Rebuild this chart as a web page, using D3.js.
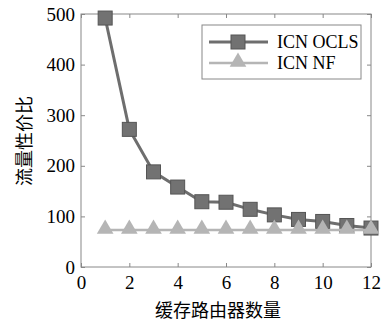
<!DOCTYPE html>
<html>
<head>
<meta charset="utf-8">
<script src="https://cdn.jsdelivr.net/npm/d3@7"></script>
<style>
  body { margin: 0; background: #fff; }
  text { font-family: "Liberation Serif", "DejaVu Serif", serif; fill: #000; }
  .cjk { font-family: "Noto Sans CJK SC", sans-serif; }
</style>
</head>
<body>
<div id="container"></div>
<script>
// Chart values
const routers = [1, 2, 3, 4, 5, 6, 7, 8, 9, 10, 11, 12];
const oclsValues = [492, 272, 188, 158, 129, 128, 114, 103, 94, 90, 82, 77];
const nfValues = [73, 73, 73, 73, 73, 73, 73, 73, 73, 73, 73, 73];
const xTicks = [0, 2, 4, 6, 8, 10, 12];
const yTicks = [0, 100, 200, 300, 400, 500];
const seriesNames = ["ICN OCLS", "ICN NF"];

let width = 390;
let height = 321;
let margin = { left: 81, right: 19, top: 14, bottom: 54 };

let svg = d3.select('#container')
  .append('svg')
  .attr('width', width)
  .attr('height', height);

let xScale = d3.scaleLinear()
  .domain([0, 12])
  .range([margin.left, width - margin.right]);

let yScale = d3.scaleLinear()
  .domain([0, 500])
  .range([height - margin.bottom, margin.top]);

// Box with inward ticks on every side
let plotW = xScale(12) - xScale(0);
let plotH = yScale(0) - yScale(500);

svg.append('rect')
  .attr('x', xScale(0))
  .attr('y', yScale(500))
  .attr('width', plotW)
  .attr('height', plotH)
  .attr('fill', 'none')
  .attr('stroke', '#888')
  .attr('stroke-width', 1);

let xAxis = d3.axisBottom(xScale).tickValues(xTicks).tickSizeInner(-4).tickSizeOuter(0).tickPadding(9);
let gx = svg.append('g')
  .attr('transform', 'translate(0,' + yScale(0) + ')')
  .call(xAxis);
gx.select('.domain').remove();
gx.selectAll('line').attr('stroke', '#888');
gx.selectAll('text').style('font-size', '19px').attr('fill', '#000');

let xTop = d3.axisTop(xScale).tickValues(xTicks).tickSizeInner(-4).tickSizeOuter(0).tickFormat('');
let gxt = svg.append('g')
  .attr('transform', 'translate(0,' + yScale(500) + ')')
  .call(xTop);
gxt.select('.domain').remove();
gxt.selectAll('line').attr('stroke', '#888');

let yAxis = d3.axisLeft(yScale).tickValues(yTicks).tickSizeInner(-4).tickSizeOuter(0).tickPadding(6);
let gy = svg.append('g')
  .attr('transform', 'translate(' + xScale(0) + ',0)')
  .call(yAxis);
gy.select('.domain').remove();
gy.selectAll('line').attr('stroke', '#888');
gy.selectAll('text').style('font-size', '19px').attr('fill', '#000');

let yRight = d3.axisRight(yScale).tickValues(yTicks).tickSizeInner(-4).tickSizeOuter(0).tickFormat('');
let gyr = svg.append('g')
  .attr('transform', 'translate(' + xScale(12) + ',0)')
  .call(yRight);
gyr.select('.domain').remove();
gyr.selectAll('line').attr('stroke', '#888');

// Series
let lineGen = d3.line()
  .x((d, i) => xScale(routers[i]))
  .y((d) => yScale(d));

let nfColor = '#b5b5b5';
let oclsColor = '#6e6e6e';
let sq = 14;
let tri = d3.symbol().type(d3.symbolTriangle).size(120);

// OCLS first, NF sits on top of it
svg.append('path')
  .datum(oclsValues)
  .attr('d', lineGen)
  .attr('fill', 'none')
  .attr('stroke', oclsColor)
  .attr('stroke-width', 3);

svg.append('g')
  .selectAll('rect')
  .data(oclsValues)
  .enter()
  .append('rect')
  .attr('x', (d, i) => xScale(routers[i]) - sq / 2)
  .attr('y', (d) => yScale(d) - sq / 2)
  .attr('width', sq)
  .attr('height', sq)
  .attr('fill', '#727272')
  .attr('stroke', '#555')
  .attr('stroke-width', 1);

svg.append('path')
  .datum(nfValues)
  .attr('d', lineGen)
  .attr('fill', 'none')
  .attr('stroke', nfColor)
  .attr('stroke-width', 2.5);

svg.append('g')
  .selectAll('path')
  .data(nfValues)
  .enter()
  .append('path')
  .attr('d', tri)
  .attr('transform', (d, i) => 'translate(' + xScale(routers[i]) + ',' + (yScale(d) - 1) + ')')
  .attr('fill', nfColor);

// Legend
let lg = svg.append('g');
lg.append('rect')
  .attr('x', 202)
  .attr('y', 25)
  .attr('width', 159)
  .attr('height', 54)
  .attr('fill', '#fff')
  .attr('stroke', '#888')
  .attr('stroke-width', 1);

let rows = [
  { name: seriesNames[0], y: 42, color: oclsColor },
  { name: seriesNames[1], y: 63, color: nfColor }
];
rows.forEach((r, i) => {
  lg.append('line')
    .attr('x1', 209).attr('x2', 268)
    .attr('y1', r.y).attr('y2', r.y)
    .attr('stroke', r.color)
    .attr('stroke-width', i === 0 ? 3 : 2.5);
  if (i === 0) {
    lg.append('rect')
      .attr('x', 238 - sq / 2).attr('y', r.y - sq / 2)
      .attr('width', sq).attr('height', sq)
      .attr('fill', '#727272').attr('stroke', '#555');
  } else {
    lg.append('path')
      .attr('d', tri)
      .attr('transform', 'translate(238,' + (r.y - 1) + ')')
      .attr('fill', nfColor);
  }
  lg.append('text')
    .attr('x', 277)
    .attr('y', r.y + 6)
    .style('font-size', '18px')
    .text(r.name);
});

// Axis titles
svg.append('text')
  .attr('class', 'cjk')
  .attr('transform', 'translate(31,141) rotate(-90)')
  .attr('text-anchor', 'middle')
  .style('font-size', '18px')
  .text('流量性价比');

svg.append('text')
  .attr('class', 'cjk')
  .attr('x', 218)
  .attr('y', 317)
  .attr('text-anchor', 'middle')
  .style('font-size', '18px')
  .text('缓存路由器数量');
</script>
</body>
</html>
